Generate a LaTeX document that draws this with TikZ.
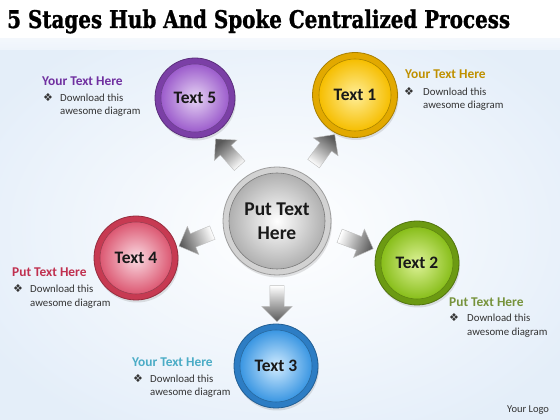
\documentclass[tikz,border=0pt]{standalone}
\usepackage{fontspec}
\setmainfont{Carlito}
\newfontfamily\titlefont[BoldFeatures={FakeBold=1.3}]{DejaVu Serif}
\newfontfamily\symfont{DejaVu Sans}
\usetikzlibrary{shapes.arrows,shadows,calc}
\definecolor{bgblue}{HTML}{E4EEF9}
\definecolor{pRing}{HTML}{7B3FA6}\definecolor{pIn}{HTML}{E6D4F4}\definecolor{pOut}{HTML}{9C5CCC}\definecolor{pHead}{HTML}{7030A0}
\definecolor{yRing}{HTML}{E2A900}\definecolor{yIn}{HTML}{FFEE98}\definecolor{yOut}{HTML}{F6BE00}\definecolor{yHead}{HTML}{BF9000}
\definecolor{rRing}{HTML}{C73A52}\definecolor{rIn}{HTML}{FADAE2}\definecolor{rOut}{HTML}{DC5872}\definecolor{rHead}{HTML}{C0304F}
\definecolor{gRing}{HTML}{6C9A12}\definecolor{gIn}{HTML}{DEF398}\definecolor{gOut}{HTML}{88BE1A}\definecolor{gHead}{HTML}{77933C}
\definecolor{bRing}{HTML}{2D7DC4}\definecolor{bIn}{HTML}{D0EBFF}\definecolor{bOut}{HTML}{3A96E2}\definecolor{bHead}{HTML}{4BACC6}
\definecolor{hRing}{HTML}{D2D2D2}\definecolor{hIn}{HTML}{FFFFFF}\definecolor{hOut}{HTML}{B0B0B0}
\definecolor{txt}{HTML}{333333}
\tikzset{
  ringnode/.style n args={2}{circle, inner sep=0pt, minimum size=#1, fill=#2, draw=#2!75!black, line width=0.8pt,
     drop shadow={opacity=0.22, shadow xshift=1pt, shadow yshift=-2.5pt}},
  facenode/.style n args={3}{circle, inner sep=0pt, minimum size=#1, inner color=#2, outer color=#3, draw=#3!70!black, line width=0.6pt,
     font=\fontsize{17.5}{20}\selectfont\bfseries, text=black!90},
  spoke/.style={single arrow, inner xsep=0pt, inner ysep=7pt, minimum height=36pt,
     single arrow head extend=8pt, single arrow head indent=0pt, draw=gray!50, line width=0.4pt,
     top color=white, bottom color=black!65},
  headtxt/.style={anchor=base west, inner sep=0pt, font=\fontsize{13.4}{16}\selectfont\bfseries},
  bodytxt/.style={anchor=base west, inner sep=0pt, font=\fontsize{10.8}{13}\selectfont, text=txt},
  bul/.style={anchor=base, inner sep=0pt, font=\symfont\fontsize{11}{12}\selectfont, text=txt},
}
\begin{document}
\begin{tikzpicture}[x=1pt,y=1pt]
\useasboundingbox (0,0) rectangle (560,420);
% background
\fill[bgblue] (0,0) rectangle (560,420);
\shade[inner color=white, outer color=bgblue] (-60,-40) rectangle (620,420);
\fill[white] (0,382) rectangle (560,420);
\shade[top color=white, bottom color=white!60!bgblue, opacity=0.6] (0,370) rectangle (560,383);
% title
\node[anchor=base west, inner sep=0pt, font=\titlefont\bfseries] (title) at (7,392)
  {\resizebox{503pt}{18.5pt}{5 Stages Hub And Spoke Centralized Process}};
% hub
\node[ringnode={108pt}{hRing}] (hub) at (277,199) {};
\node[facenode={96pt}{hIn}{hOut}, font=\fontsize{19.5}{24}\selectfont\bfseries, align=center] (hubf) at (hub) {Put Text\\Here};
% satellites
\node[ringnode={80pt}{pRing}] (n5) at (195,322) {};
\node[facenode={68pt}{pIn}{pOut}] (f5) at (n5) {Text 5};
\node[ringnode={85pt}{yRing}] (n1) at (355,325) {};
\node[facenode={72pt}{yIn}{yOut}] (f1) at (n1) {Text 1};
\node[ringnode={84pt}{rRing}] (n4) at (136,162) {};
\node[facenode={72pt}{rIn}{rOut}] (f4) at (n4) {Text 4};
\node[ringnode={84pt}{gRing}] (n2) at (417,157) {};
\node[facenode={72pt}{gIn}{gOut}] (f2) at (n2) {Text 2};
\node[ringnode={84pt}{bRing}] (n3) at (276,54) {};
\node[facenode={72pt}{bIn}{bOut}] (f3) at (n3) {Text 3};
% spokes
\node[spoke, rotate=132, shading angle=222] (a5) at (230,265) {};
\node[spoke, rotate=54, shading angle=144] (a1) at (322,268) {};
\node[spoke, rotate=202, shading angle=292] (a4) at (199,182) {};
\node[spoke, rotate=-21, shading angle=69] (a2) at (353,179) {};
\node[spoke, rotate=-90, shading angle=0] (a3) at (277,120) {};
% side texts
\node[headtxt, text=pHead] (h5) at (42,334) {Your Text Here};
\node[bul] (b5) at (48,318) {❖};
\node[bodytxt] (t5a) at (60,318) {Download this};
\node[bodytxt] (t5b) at (60,305) {awesome diagram};

\node[headtxt, text=yHead] (h1) at (405,341) {Your Text Here};
\node[bul] (b1) at (409,324) {❖};
\node[bodytxt] (t1a) at (423,324) {Download this};
\node[bodytxt] (t1b) at (423,311) {awesome diagram};

\node[headtxt, text=rHead] (h4) at (12,143) {Put Text Here};
\node[bul] (b4) at (18,127) {❖};
\node[bodytxt] (t4a) at (30,127) {Download this};
\node[bodytxt] (t4b) at (30,113) {awesome diagram};

\node[headtxt, text=gHead] (h2) at (449,113) {Put Text Here};
\node[bul] (b2) at (454,98) {❖};
\node[bodytxt] (t2a) at (467,98) {Download this};
\node[bodytxt] (t2b) at (467,84) {awesome diagram};

\node[headtxt, text=bHead] (h3) at (132,53) {Your Text Here};
\node[bul] (b3) at (138,37) {❖};
\node[bodytxt] (t3a) at (150,37) {Download this};
\node[bodytxt] (t3b) at (150,24) {awesome diagram};

\node[anchor=base west, inner sep=0pt, font=\fontsize{10.5}{12}\selectfont, text=txt] (logo) at (507,7) {Your Logo};
\end{tikzpicture}
\end{document}
